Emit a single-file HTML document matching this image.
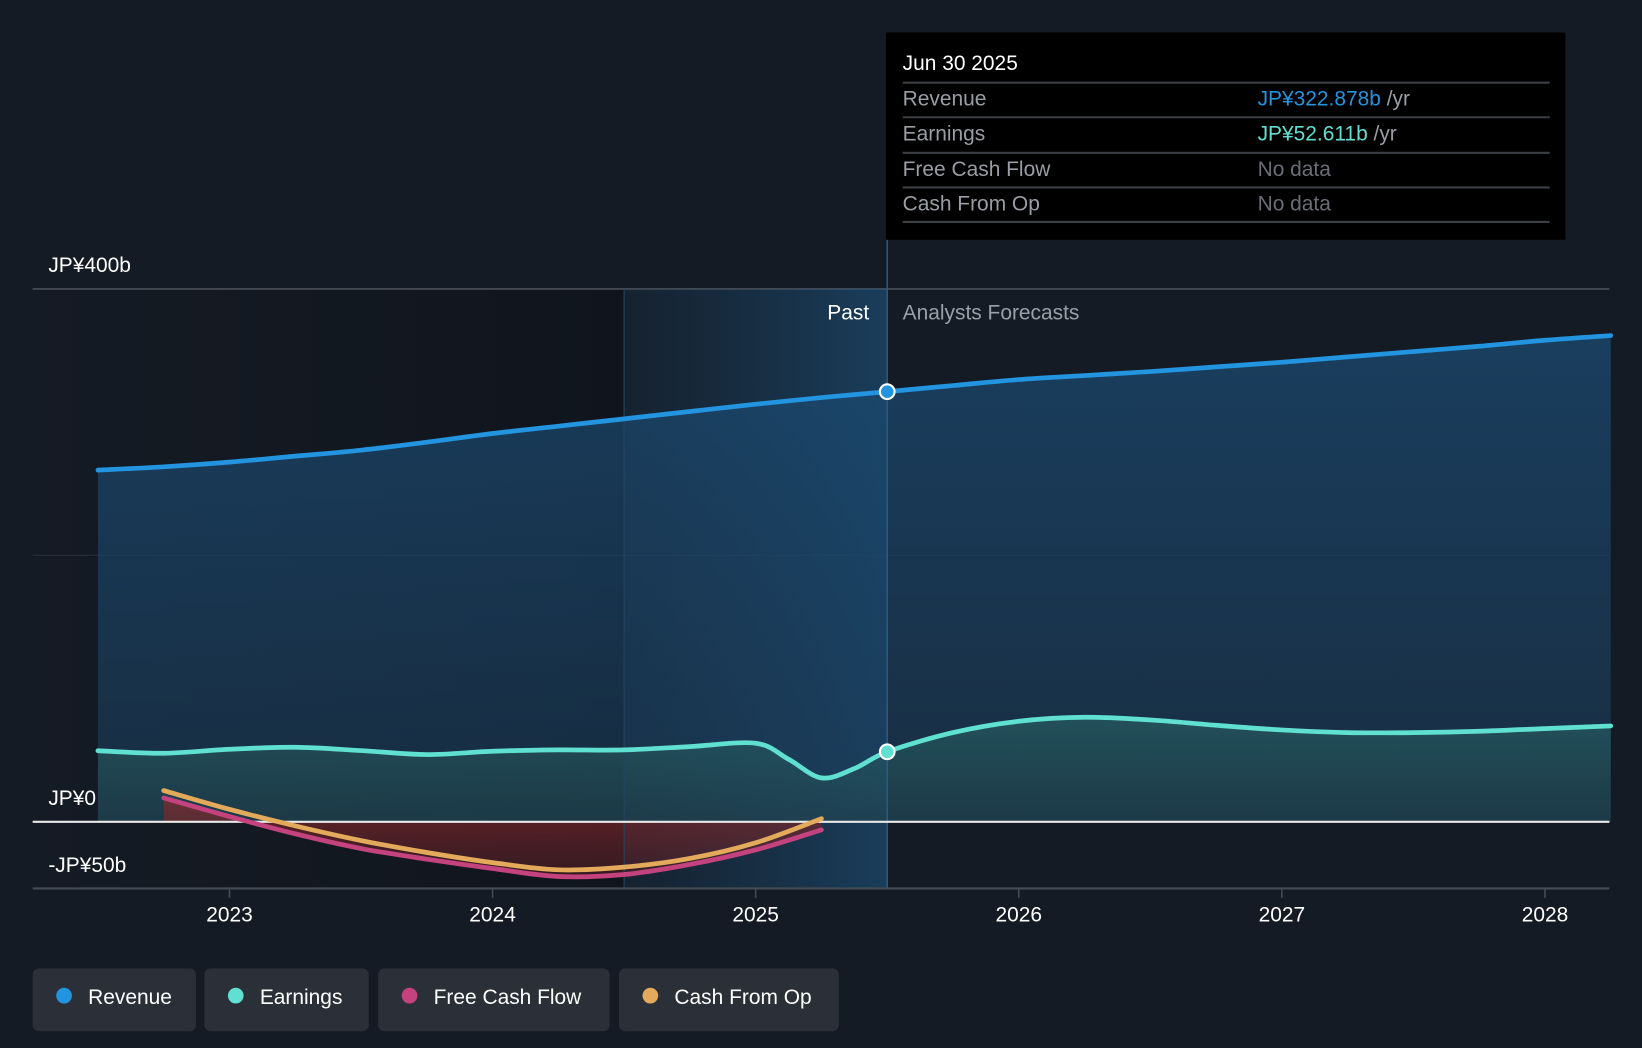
<!DOCTYPE html>
<html><head><meta charset="utf-8"><style>
html,body{margin:0;padding:0;background:#151b24;}
svg{display:block;font-family:"Liberation Sans","Noto Sans CJK JP",sans-serif;}
</style></head><body>
<svg id="chart" width="1642" height="1048" viewBox="0 0 1568 1001" xmlns="http://www.w3.org/2000/svg">
<defs>
<linearGradient id="pastShade" x1="0" x2="1" y1="0" y2="0"><stop offset="0" stop-color="#151b24"/><stop offset="1" stop-color="#10151d"/></linearGradient>
<linearGradient id="band" x1="0" x2="1" y1="0" y2="0"><stop offset="0" stop-color="#1a4a70" stop-opacity="0.15"/><stop offset="1" stop-color="#1e5a88" stop-opacity="0.55"/></linearGradient>
<linearGradient id="revFill" x1="0" x2="0" y1="0" y2="1"><stop offset="0" stop-color="#1b4a72" stop-opacity="0.75"/><stop offset="1" stop-color="#1b3e5c" stop-opacity="0.55"/></linearGradient>
<linearGradient id="earnFill" x1="0" x2="0" y1="0" y2="1"><stop offset="0" stop-color="#2a6a6a" stop-opacity="0.55"/><stop offset="1" stop-color="#22454c" stop-opacity="0.5"/></linearGradient>
<linearGradient id="fcfFill" x1="0" x2="0" y1="0" y2="1"><stop offset="0" stop-color="#8a2a2a" stop-opacity="0.7"/><stop offset="1" stop-color="#5a1e26" stop-opacity="0.5"/></linearGradient>
</defs>
<rect width="1568" height="1001" fill="#151b24"/>
<rect x="31" y="276" width="564" height="573" fill="url(#pastShade)"/>
<g id="plot"></g>
<g id="overlay"></g>
</svg>
<script>
const years=[2022.5,2022.75,2023,2023.25,2023.5,2023.75,2024,2024.25,2024.5,2024.75,2025,2025.25,2025.5,2025.75,2026,2026.25,2026.5,2026.75,2027,2027.25,2027.5,2027.75,2028,2028.25];
const revenue=[264,266.5,270,274.5,279,285,291.5,297,302.5,308,313.5,318.5,322.9,327.5,332,335,338,341.5,345,349,353,357,361.5,365];
const earnYears=[2022.5,2022.75,2023,2023.25,2023.5,2023.75,2024,2024.25,2024.5,2024.75,2025,2025.125,2025.25,2025.375,2025.5,2025.75,2026,2026.25,2026.5,2026.75,2027,2027.25,2027.5,2027.75,2028,2028.25];
const earnings=[53.4,51.5,54.5,56,53.5,50.5,53,54,54,56.5,59,47,33,40,52.6,67,75.5,78.5,76.5,72.5,69,67,67,68,70,72];
const cfYears=[2022.75,2023,2023.25,2023.5,2023.75,2024,2024.25,2024.5,2024.75,2025,2025.25];
const fcf=[18,4,-9,-20,-28,-35,-41,-39.5,-32,-21,-6];
const cfo=[23.5,9.4,-3,-14,-23,-30.6,-36,-34,-27.5,-15.7,2.4];
const yTicks=[400,200,0,-50];
const xTicks=[2023,2024,2025,2026,2027,2028];

const NS='http://www.w3.org/2000/svg';
const X=y=>219+(y-2023)*251.3;
const Y=v=>785-v*1.2725;
const plot=document.getElementById('plot'), ov=document.getElementById('overlay');
function el(tag,attrs,parent,text){const e=document.createElementNS(NS,tag);for(const k in attrs)e.setAttribute(k,attrs[k]);if(text!==undefined)e.textContent=text;(parent||plot).appendChild(e);return e;}
function smooth(xs,vs){const p=xs.map((x,i)=>[X(x),Y(vs[i])]);let d='M'+p[0][0]+','+p[0][1];
 for(let i=0;i<p.length-1;i++){const p0=p[i-1]||p[i],p1=p[i],p2=p[i+1],p3=p[i+2]||p2;
 d+=` C${p1[0]+(p2[0]-p0[0])/6},${p1[1]+(p2[1]-p0[1])/6} ${p2[0]-(p3[0]-p1[0])/6},${p2[1]-(p3[1]-p1[1])/6} ${p2[0]},${p2[1]}`;}return d;}
function area(xs,vs){return smooth(xs,vs)+` L${X(xs[xs.length-1])},${Y(0)} L${X(xs[0])},${Y(0)} Z`;}

// gridlines
let g=el('line',{x1:31,x2:1537,y1:Y(400),y2:Y(400),stroke:'#4a5058','stroke-width':1.5});

g=el('line',{x1:31,x2:1537,y1:Y(200),y2:Y(200),stroke:'#2a3038','stroke-width':1});

// band
g=el('rect',{x:X(2024.5),y:Y(400),width:X(2025.5)-X(2024.5),height:Y(-50)-Y(400),fill:'url(#band)'});

// areas
g=el('path',{d:area(years,revenue),fill:'url(#revFill)'});

g=el('path',{d:area(earnYears,earnings),fill:'url(#earnFill)'});

g=el('path',{d:area(cfYears,fcf),fill:'url(#fcfFill)'});

// lines
g=el('line',{x1:X(2024.5),x2:X(2024.5),y1:Y(400),y2:Y(-50),stroke:'#25445e','stroke-width':1});

g=el('line',{x1:X(2025.5),x2:X(2025.5),y1:229,y2:Y(-50),stroke:'#2a5a80','stroke-width':1.5});

g=el('line',{x1:31,x2:1537,y1:Y(0),y2:Y(0),stroke:'#e8e8e8','stroke-width':2});

g=el('line',{x1:31,x2:1537,y1:Y(-50),y2:Y(-50),stroke:'#454b53','stroke-width':2});

g=el('path',{d:smooth(years,revenue),fill:'none',stroke:'#2394df','stroke-width':4.5,'stroke-linecap':'round'});

g=el('path',{d:smooth(earnYears,earnings),fill:'none',stroke:'#5fe0d0','stroke-width':4.5,'stroke-linecap':'round'});

g=el('path',{d:smooth(cfYears,fcf),fill:'none',stroke:'#c4437f','stroke-width':4.5,'stroke-linecap':'round'});

g=el('path',{d:smooth(cfYears,cfo),fill:'none',stroke:'#e2aa5a','stroke-width':4.5,'stroke-linecap':'round'});

g=el('circle',{cx:X(2025.5),cy:Y(revenue[12]),r:7,fill:'#2394df',stroke:'#fff','stroke-width':2});

g=el('circle',{cx:X(2025.5),cy:Y(earnings[14]),r:7,fill:'#5fe0d0',stroke:'#fff','stroke-width':2});

// x ticks
xTicks.forEach(t=>{const l=el('line',{x1:X(t),x2:X(t),y1:Y(-50),y2:Y(-50)+9,stroke:'#454b53','stroke-width':1.5});


const tx=el('text',{x:X(t),y:880,fill:'#fff','font-size':20,'text-anchor':'middle'},plot,String(t));

});
// y labels
const ylab={400:[46,260,'JP¥400b'],0:[46,769,'JP¥0'],'-50':[46,833,'-JP¥50b']};
yTicks.forEach(t=>{if(!ylab[t])return;const a=ylab[t];const tx=el('text',{x:a[0],y:a[1],fill:'#fff','font-size':20},plot,a[2]);

});
g=el('text',{x:830,y:305,fill:'#fff','font-size':20,'text-anchor':'end'},plot,'Past');

g=el('text',{x:862,y:305,fill:'#9aa0a8','font-size':20},plot,'Analysts Forecasts');


// tooltip
const tip=el('g',{},ov);

el('rect',{x:846,y:31,width:649,height:198,fill:'#000'},tip);
el('text',{x:862,y:67,fill:'#fff','font-size':20},tip,'Jun 30 2025');
[79,112,146,179,212].forEach(y=>el('line',{x1:862,x2:1480,y1:y,y2:y,stroke:'#3c3f44','stroke-width':2},tip));
const rows=[['Revenue','JP¥322.878b','#2394df',101],['Earnings','JP¥52.611b','#5fe0d0',134],['Free Cash Flow','No data','#6a6e74',168],['Cash From Op','No data','#6a6e74',201]];
rows.forEach(r=>{el('text',{x:862,y:r[3],fill:'#9a9ea4','font-size':20},tip,r[0]);
const t=el('text',{x:1201,y:r[3],fill:r[2],'font-size':20},tip,r[1]);
if(r[1]!=='No data'){const s=document.createElementNS(NS,'tspan');s.setAttribute('fill','#9a9ea4');s.textContent=' /yr';t.appendChild(s);}});

// legend
const leg=[['Revenue','#2394df',31,156],['Earnings','#5fe0d0',195,157],['Free Cash Flow','#c4437f',361,221],['Cash From Op','#e2aa5a',591,210]];
leg.forEach(l=>{const gg=el('g',{},ov);


el('rect',{x:l[2],y:925,width:l[3],height:60,rx:6,fill:'#2a2f38'},gg);
el('circle',{cx:l[2]+30,cy:951,r:7.5,fill:l[1]},gg);
el('text',{x:l[2]+53,y:959,fill:'#fff','font-size':20},gg,l[0]);});
</script>
</body></html>
